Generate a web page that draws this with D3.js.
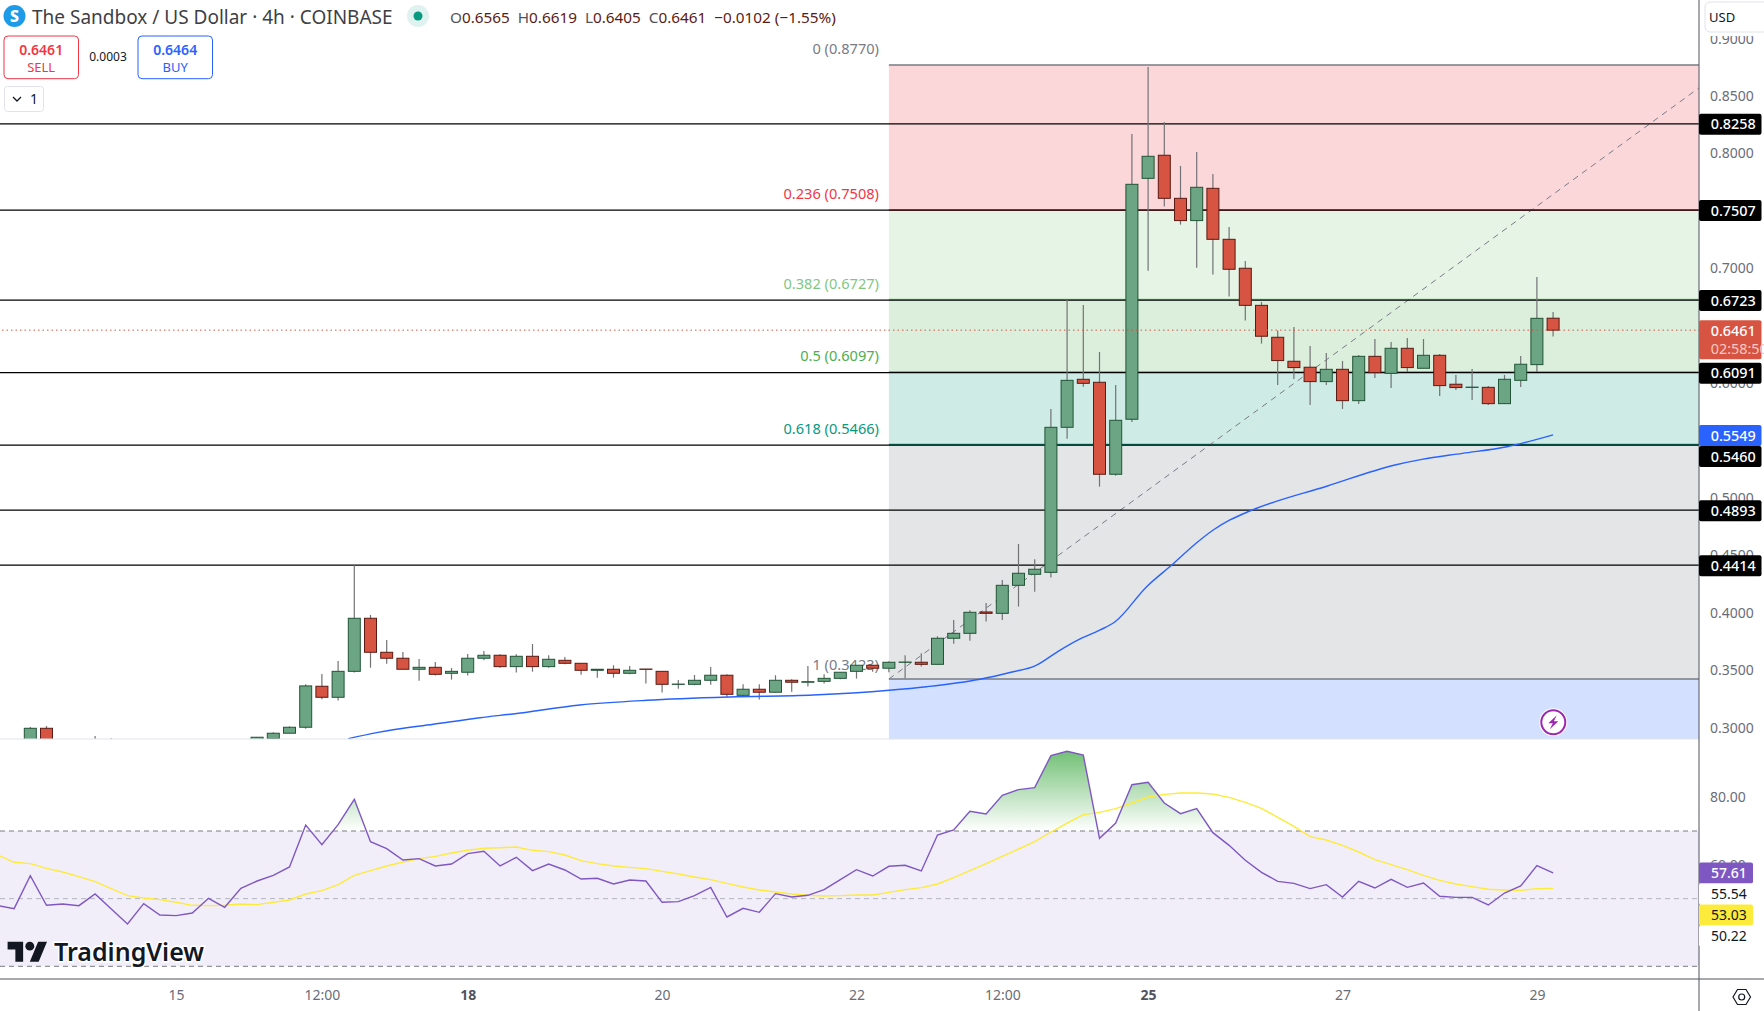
<!DOCTYPE html>
<html>
<head>
<meta charset="utf-8">
<script src="https://cdn.jsdelivr.net/npm/d3@7"></script>
<style>
  body { margin: 0; background: #fff; overflow: hidden; }
  text { font-family: "Noto Sans", sans-serif; }
</style>
</head>
<body>
<svg id="chart" width="1764" height="1011"></svg>
<script>
// candles by bar index, null = nothing of that bar shows in the price pane
const opens = [0.285,0.2994,null,null,0.283,0.283,null,null,null,null,null,null,null,null,0.283,0.2904,0.2951,0.3003,0.3360,0.3264,0.3490,0.3952,0.3656,0.3604,0.3508,0.3525,0.3473,0.3482,0.3604,0.3630,0.3531,0.3621,0.3531,0.3586,0.3560,0.3499,0.3508,0.3473,0.3510,0.3490,0.3377,0.3377,0.3412,0.3456,0.3281,0.3334,0.3308,0.3412,0.3395,0.3403,0.3429,0.3490,0.3543,0.3517,0.3569,0.3569,0.3551,0.3778,0.3821,0.4007,0.3995,0.4239,0.4335,0.4352,0.5615,0.6033,0.6007,0.5206,0.5685,0.7783,0.7984,0.7609,0.7415,0.7696,0.7252,0.7000,0.6677,0.6399,0.6190,0.6138,0.6013,0.6120,0.5847,0.6233,0.6085,0.6303,0.6129,0.6242,0.5990,0.5963,0.5963,0.5821,0.6024,0.6161,0.6565];
const highs = [0.3006,0.3014,null,null,0.2927,0.2907,null,null,null,null,null,null,null,null,0.2916,0.2959,0.3011,0.3377,0.3467,0.3580,0.4413,0.3981,0.3763,0.3659,0.3598,0.3572,0.3519,0.3641,0.3667,0.3638,0.3638,0.3728,0.3630,0.3615,0.3560,0.3508,0.3543,0.3537,0.3510,0.3490,0.3415,0.3458,0.3528,0.3464,0.3377,0.3377,0.3456,0.3421,0.3537,0.3464,0.3482,0.3543,0.3543,0.3577,0.3630,0.3647,0.3795,0.3937,0.4022,0.4085,0.4286,0.4599,0.4466,0.5775,0.6730,0.6680,0.6271,0.5984,0.8169,0.8753,0.8274,0.7891,0.8013,0.7821,0.7360,0.7064,0.6707,0.6457,0.6489,0.6323,0.6262,0.6193,0.6245,0.6384,0.6358,0.6393,0.6384,0.6254,0.6071,0.6123,0.5975,0.6071,0.6236,0.6924,0.6619];
const lows = [0.283,0.283,null,null,0.28,0.28,null,null,null,null,null,null,null,null,0.281,0.2895,0.2951,0.2991,0.3247,0.3235,0.3479,0.3522,0.3557,0.3508,0.3409,0.3453,0.3418,0.3453,0.3586,0.3522,0.3479,0.3487,0.3522,0.3551,0.3461,0.3435,0.3435,0.3464,0.3383,0.3305,0.3339,0.3369,0.3374,0.3267,0.3267,0.3244,0.3305,0.3313,0.3357,0.3383,0.3421,0.3427,0.3487,0.3482,0.3429,0.3531,0.3546,0.3731,0.3757,0.3923,0.3937,0.4054,0.4184,0.4306,0.5516,0.5969,0.5098,0.5194,0.5662,0.6979,0.7537,0.7380,0.7005,0.6945,0.6753,0.6544,0.6344,0.5984,0.6036,0.5810,0.5984,0.5775,0.5818,0.6045,0.5958,0.6097,0.6129,0.5888,0.5940,0.5853,0.5810,0.5821,0.5966,0.6097,0.6405];
const closes = [0.2994,0.285,null,null,0.284,0.284,null,null,null,null,null,null,null,null,0.2916,0.2951,0.3003,0.3363,0.3264,0.3490,0.3952,0.3656,0.3604,0.3508,0.3525,0.3464,0.3490,0.3604,0.3630,0.3531,0.3621,0.3531,0.3595,0.3560,0.3499,0.3508,0.3473,0.3499,0.3508,0.3377,0.3379,0.3412,0.3456,0.3290,0.3334,0.3308,0.3412,0.3395,0.3400,0.3429,0.3482,0.3543,0.3517,0.3569,0.3571,0.3551,0.3778,0.3821,0.4004,0.3995,0.4239,0.4344,0.4379,0.5615,0.6024,0.5998,0.5206,0.5676,0.7731,0.7975,0.7609,0.7415,0.7705,0.7252,0.6991,0.6677,0.6408,0.6196,0.6135,0.6013,0.6120,0.5847,0.6233,0.6091,0.6303,0.6135,0.6242,0.5978,0.5961,0.5965,0.5821,0.6033,0.6164,0.6564,0.6461];

// moving average on the price pane, read at these bar positions
const maBars = [19.63,21.38,22.04,24.88,27.76,29.81,33.93,38.05,43.19,48.33,53.02,55.33,58.62,60.6,62.02,63.38,64.68,66.04,66.96,68.91,70.46,72,73.02,74.05,75.28,80.07,84.24,85.9,88.4,91.15,94];
const maValues = [0.2904,0.2956,0.2973,0.3029,0.3086,0.3119,0.3197,0.3238,0.3267,0.3284,0.3325,0.3356,0.3421,0.3484,0.3537,0.3658,0.3763,0.3850,0.3922,0.4227,0.4416,0.4610,0.4721,0.4808,0.4886,0.5104,0.5287,0.5336,0.5388,0.5446,0.5549];

// RSI and its average, first value belongs to bar -2
const rsiValues = [47.93,47.04,56.8,48.03,48.42,47.93,51.38,46.95,42.51,48.52,45.17,44.98,45.76,50.1,47.44,53.05,55.22,56.9,59.36,71.77,65.96,71.87,79.36,66.85,64.78,61.43,61.82,59.66,60.25,63.3,63.99,59.66,62.22,58.28,60.25,58.47,55.81,56.01,54.33,55.52,55.22,48.92,49.11,50.89,53.35,44.58,47.14,45.96,51.48,50.49,50.99,52.66,55.62,58.57,56.7,59.56,59.85,58.18,68.82,70.3,75.81,75.02,80.54,82.22,82.81,92.27,93.55,92.46,67.83,72.36,83.69,84.38,78.28,75.12,76.6,69.51,65.76,61.33,57.78,55.12,54.53,52.96,54.14,50.49,55.12,53.15,55.71,53.35,54.63,50.69,50.39,50.39,48.13,51.67,53.74,59.75,57.61];
const rsiMaValues = [62.91,60.74,60.34,58.97,57.88,56.5,55.02,52.96,50.89,50.2,49.7,48.92,48.03,47.93,48.03,48.42,48.23,48.92,49.61,51.38,52.36,54.14,56.9,58.28,59.66,60.84,61.82,62.51,63.5,64.29,64.88,65.07,65.27,64.29,63.89,62.91,61.23,60.34,59.66,59.26,58.87,58.08,57.29,56.4,55.62,54.53,53.45,52.56,51.97,51.38,50.99,50.79,50.89,51.08,51.08,51.87,52.66,53.25,54.33,56.21,58.28,60.34,62.51,64.68,66.85,69.7,72.36,74.83,75.52,76.6,78.28,80.05,80.84,81.23,81.23,80.94,79.95,78.47,76.7,74.04,71.38,68.33,67.34,65.76,63.79,61.53,60.05,58.57,56.9,55.42,54.33,53.55,52.76,52.56,52.46,52.96,53.03];

// fib retracement
const fibRatios = ["0","0.236","0.382","0.5","0.618","1"];
const fibPrices = [0.8770,0.7508,0.6727,0.6097,0.5466,0.3423];
const fibColors = ["#787b86","#f23645","#81c784","#4caf50","#089981","#787b86"];
const fibZoneColors = ["#f23645","#81c784","#4caf50","#089981","#787b86","#2962ff"];
const fibBottom = 0.2161;
const fibStartBar = 53;
const trendBars = [53, 103];
const trendPrices = [0.3423, 0.857];

const levelPrices = [0.8258,0.7507,0.6723,0.6091,0.5460,0.4893,0.4414];
const lastPrice = 0.6461;

const priceTicks = [0.90,0.85,0.80,0.70,0.60,0.50,0.45,0.40,0.35,0.30];
const rsiTicks = [80,60];
const rsiLevels = [70,50,30];
const timeBars = [9,18,27,39,51,60,69,81,93];
const timeLabels = ["15","12:00","18","20","22","12:00","25","27","29"];
const boldLabels = ["18","25"];

const paneRight = 1699, paneBottom = 739, rsiBottom = 979;

const x = d3.scaleLinear().domain([0, 94]).range([30.3, 1553.1]);
const y = d3.scaleLinear().domain([0.30, 0.85]).range([727.6, 96]);
const yRsi = d3.scaleLinear().domain([30, 70]).range([966.3, 831]);

const svg = d3.select("#chart");
const defs = svg.append("defs");
defs.append("clipPath").attr("id", "pricePane").append("rect")
    .attr("width", paneRight).attr("height", paneBottom);
defs.append("clipPath").attr("id", "rsiPane").append("rect")
    .attr("y", paneBottom).attr("width", paneRight).attr("height", rsiBottom - paneBottom);
defs.append("clipPath").attr("id", "aboveBand").append("rect")
    .attr("y", paneBottom).attr("width", paneRight).attr("height", yRsi(70) - paneBottom);
const grad = defs.append("linearGradient").attr("id", "overbought")
    .attr("gradientUnits", "userSpaceOnUse")
    .attr("x1", 0).attr("x2", 0).attr("y1", yRsi(94)).attr("y2", yRsi(70));
grad.append("stop").attr("offset", 0).attr("stop-color", "#4caf50").attr("stop-opacity", 0.8);
grad.append("stop").attr("offset", 1).attr("stop-color", "#4caf50").attr("stop-opacity", 0);

// ---- price pane
const pane = svg.append("g").attr("clip-path", "url(#pricePane)");

// fib zones, each one reaches down to the next level
const zoneEdges = fibPrices.concat([fibBottom]);
pane.selectAll("rect.zone").data(fibPrices).enter().append("rect")
    .attr("class", "zone")
    .attr("x", x(fibStartBar))
    .attr("width", paneRight - x(fibStartBar))
    .attr("y", (d) => y(d))
    .attr("height", (d, i) => y(zoneEdges[i + 1]) - y(d))
    .attr("fill", (d, i) => fibZoneColors[i])
    .attr("fill-opacity", 0.2);

pane.selectAll("line.fib").data(fibPrices).enter().append("line")
    .attr("class", "fib")
    .attr("x1", x(fibStartBar)).attr("x2", paneRight)
    .attr("y1", (d) => y(d)).attr("y2", (d) => y(d))
    .attr("stroke", (d, i) => fibColors[i])
    .attr("stroke-width", 1.5);

pane.append("line")
    .attr("x1", x(trendBars[0])).attr("x2", x(trendBars[1]))
    .attr("y1", y(trendPrices[0])).attr("y2", y(trendPrices[1]))
    .attr("stroke", "#787b86")
    .attr("stroke-width", 1)
    .attr("stroke-dasharray", "6 5");

// fib labels sit a bit above their level
const fibLabelY = [48.5, 194, 284, 356, 429, 664.5];
pane.selectAll("text.fibLabel").data(fibPrices).enter().append("text")
    .attr("class", "fibLabel")
    .attr("x", 879)
    .attr("y", (d, i) => fibLabelY[i])
    .attr("dy", "0.35em")
    .attr("text-anchor", "end")
    .attr("font-size", 14.6)
    .attr("fill", (d, i) => fibColors[i])
    .text((d, i) => fibRatios[i] + " (" + d.toFixed(4) + ")");

pane.selectAll("line.level").data(levelPrices).enter().append("line")
    .attr("class", "level")
    .attr("x1", 0).attr("x2", paneRight)
    .attr("y1", (d) => y(d)).attr("y2", (d) => y(d))
    .attr("stroke", "#000")
    .attr("stroke-width", 1.3);

// candles
const bars = d3.range(opens.length).filter((i) => highs[i] != null);
pane.selectAll("line.wick").data(bars).enter().append("line")
    .attr("class", "wick")
    .attr("x1", (i) => x(i)).attr("x2", (i) => x(i))
    .attr("y1", (i) => y(highs[i])).attr("y2", (i) => y(lows[i]))
    .attr("stroke", "#737375")
    .attr("stroke-width", 1.2);
pane.selectAll("rect.body").data(bars).enter().append("rect")
    .attr("class", "body")
    .attr("x", (i) => x(i) - 6)
    .attr("width", 12)
    .attr("y", (i) => y(Math.max(opens[i], closes[i])))
    .attr("height", (i) => Math.max(0.3, Math.abs(y(opens[i]) - y(closes[i]))))
    .attr("fill", (i) => (closes[i] >= opens[i] ? "#6ba583" : "#d75442"))
    .attr("stroke", (i) => (closes[i] >= opens[i] ? "#225437" : "#5b1a13"))
    .attr("stroke-width", 1);

pane.append("path")
    .attr("d", d3.line().curve(d3.curveMonotoneX).x((d, i) => x(maBars[i])).y((d) => y(d))(maValues))
    .attr("fill", "none")
    .attr("stroke", "#2962ff")
    .attr("stroke-width", 1.4);

pane.append("line")
    .attr("x1", 2).attr("x2", paneRight)
    .attr("y1", y(lastPrice)).attr("y2", y(lastPrice))
    .attr("stroke", "#d75442")
    .attr("stroke-width", 1)
    .attr("stroke-dasharray", "1.5 3");

// bolt marker
const bolt = svg.append("g").attr("transform", "translate(1553.3,722.3)");
bolt.append("circle").attr("r", 14).attr("fill", "#fff");
bolt.append("circle").attr("r", 12).attr("fill", "#fff").attr("stroke", "#9c27b0").attr("stroke-width", 2);
bolt.append("path").attr("d", "M3.5 -7 L-5 1 L-0.5 1 L-3.5 7 L5 -1 L0.5 -1 Z").attr("fill", "#9c27b0");

// ---- rsi pane
const rsiPane = svg.append("g").attr("clip-path", "url(#rsiPane)");
rsiPane.append("rect")
    .attr("x", 0).attr("width", paneRight)
    .attr("y", yRsi(70)).attr("height", yRsi(30) - yRsi(70))
    .attr("fill", "#7e57c2").attr("fill-opacity", 0.1);

rsiPane.selectAll("line.rsiLevel").data(rsiLevels).enter().append("line")
    .attr("class", "rsiLevel")
    .attr("x1", 0).attr("x2", paneRight)
    .attr("y1", (d) => yRsi(d)).attr("y2", (d) => yRsi(d))
    .attr("stroke", (d) => (d == 50 ? "#b2b5be" : "#787b86"))
    .attr("stroke-width", 1)
    .attr("stroke-dasharray", "5 4");

rsiPane.append("path")
    .attr("clip-path", "url(#aboveBand)")
    .attr("d", d3.area().x((d, i) => x(i - 2)).y0(yRsi(70)).y1((d) => yRsi(d))(rsiValues))
    .attr("fill", "url(#overbought)");

rsiPane.append("path")
    .attr("d", d3.line().x((d, i) => x(i - 2)).y((d) => yRsi(d))(rsiMaValues))
    .attr("fill", "none")
    .attr("stroke", "#fdeb3b")
    .attr("stroke-width", 1.4);
rsiPane.append("path")
    .attr("d", d3.line().x((d, i) => x(i - 2)).y((d) => yRsi(d))(rsiValues))
    .attr("fill", "none")
    .attr("stroke", "#7e57c2")
    .attr("stroke-width", 1.4);

// TradingView logo
const logo = svg.append("g").attr("transform", "translate(7.6,937.3) scale(1.11)");
logo.append("path").attr("d", "M14 22H7V11H0V4h14v18zM28 22h-8l7.5-18h8L28 22z").attr("fill", "#131722");
logo.append("circle").attr("cx", 20).attr("cy", 8).attr("r", 4).attr("fill", "#131722");
svg.append("text")
    .attr("x", 54).attr("y", 961)
    .attr("font-size", 25).attr("font-weight", 600)
    .attr("fill", "#131722")
    .attr("stroke", "#fff").attr("stroke-width", 3).attr("paint-order", "stroke")
    .text("TradingView");

// ---- frame
svg.append("line").attr("x1", 0).attr("x2", paneRight).attr("y1", paneBottom).attr("y2", paneBottom)
    .attr("stroke", "#e0e3eb").attr("stroke-width", 1.2);
svg.append("line").attr("x1", 0).attr("x2", 1764).attr("y1", rsiBottom).attr("y2", rsiBottom)
    .attr("stroke", "#50535e").attr("stroke-width", 1);
svg.append("line").attr("x1", paneRight).attr("x2", paneRight).attr("y1", 0).attr("y2", 1011)
    .attr("stroke", "#50535e").attr("stroke-width", 1);

// ---- axes
const priceAxis = svg.append("g")
    .attr("transform", "translate(" + paneRight + ",0)")
    .call(d3.axisRight(y).tickValues(priceTicks).tickSize(0).tickPadding(11).tickFormat(d3.format(".4f")));
const rsiAxis = svg.append("g")
    .attr("transform", "translate(" + paneRight + ",0)")
    .call(d3.axisRight(yRsi).tickValues(rsiTicks).tickSize(0).tickPadding(11).tickFormat(d3.format(".2f")));
const timeAxis = svg.append("g")
    .attr("transform", "translate(0," + rsiBottom + ")")
    .call(d3.axisBottom(x).tickValues(timeBars).tickSize(0).tickPadding(11)
        .tickFormat((d, i) => timeLabels[i]));
[priceAxis, rsiAxis, timeAxis].forEach((a) => {
    a.select(".domain").remove();
    a.selectAll("text")
        .attr("font-family", '"Noto Sans", sans-serif')
        .attr("font-size", 14)
        .attr("fill", "#6a6d78");
});
timeAxis.selectAll("text")
    .filter((d, i) => boldLabels.includes(timeLabels[i]))
    .attr("font-weight", 700)
    .attr("fill", "#50535e");

// ---- tags on the price scale, a tag that would overlap the one above moves down
const tagValues = [0.8258,0.7507,0.6723,0.6461,0.6091,0.5549,0.5460,0.4893,0.4414];
const tagColors = ["#000","#000","#000","#d75442","#000","#2962ff","#000","#000","#000"];
const tagHeights = [21,21,21,39,21,21,21,21,21];
let tagBottom = 0;
tagValues.forEach((v, i) => {
    const top = Math.max(y(v) - 10, tagBottom);
    tagBottom = top + tagHeights[i];
    svg.append("rect")
        .attr("x", paneRight).attr("y", top)
        .attr("width", 62.5).attr("height", tagHeights[i])
        .attr("rx", 2)
        .attr("fill", tagColors[i]);
    svg.append("text")
        .attr("x", 1710.7).attr("y", top + 10.5).attr("dy", "0.36em")
        .attr("font-size", 14.4).attr("font-weight", 500)
        .attr("fill", "#fff")
        .text(v.toFixed(4));
    if (v == lastPrice) {
        svg.append("text")
            .attr("x", 1710.7).attr("y", top + 29).attr("dy", "0.36em")
            .attr("font-size", 14.4)
            .attr("fill", "#f7c9c3")
            .text("02:58:50");
    }
});

const rsiTagValues = [57.61,55.54,53.03,50.22];
const rsiTagColors = ["#7e57c2","#fff","#fdeb3b","#fff"];
const rsiTagText = ["#fff","#131722","#131722","#131722"];
let rsiTagBottom = 0;
rsiTagValues.forEach((v, i) => {
    const top = Math.max(yRsi(v) - 10.5, rsiTagBottom);
    rsiTagBottom = top + 21;
    svg.append("rect")
        .attr("x", paneRight).attr("y", top)
        .attr("width", 54).attr("height", 21)
        .attr("rx", 2)
        .attr("fill", rsiTagColors[i]);
    svg.append("text")
        .attr("x", 1711).attr("y", top + 10.5).attr("dy", "0.36em")
        .attr("font-size", 14).attr("font-weight", i == 0 ? 500 : 400)
        .attr("fill", rsiTagText[i])
        .text(v.toFixed(2));
});

// currency box, the 0.9000 tick slides under it
svg.append("rect")
    .attr("x", 1700).attr("y", 0).attr("width", 64).attr("height", 36)
    .attr("fill", "#fff");
svg.append("rect")
    .attr("x", 1705).attr("y", 2).attr("width", 70).attr("height", 30).attr("rx", 5)
    .attr("fill", "#fff").attr("stroke", "#e0e3eb");
svg.append("text")
    .attr("x", 1709).attr("y", 17).attr("dy", "0.35em")
    .attr("font-size", 13).attr("fill", "#131722")
    .text("USD");

// settings hexagon
svg.append("path")
    .attr("d", "M1733 997 L1737.5 989.5 L1746 989.5 L1750.5 997 L1746 1004.5 L1737.5 1004.5 Z")
    .attr("fill", "none").attr("stroke", "#131722").attr("stroke-width", 1.2);
svg.append("circle")
    .attr("cx", 1741.7).attr("cy", 997).attr("r", 3)
    .attr("fill", "none").attr("stroke", "#131722").attr("stroke-width", 1.2);

// ---- header
svg.append("circle").attr("cx", 14.5).attr("cy", 16).attr("r", 11).attr("fill", "#1e9be8");
svg.append("text").attr("x", 14.5).attr("y", 16).attr("dy", "0.36em")
    .attr("text-anchor", "middle").attr("font-size", 16).attr("font-weight", 800)
    .attr("fill", "#fff").text("S");
svg.append("text").attr("x", 32).attr("y", 17).attr("dy", "0.36em")
    .attr("font-size", 19).attr("fill", "#3d3f46")
    .text("The Sandbox / US Dollar · 4h · COINBASE");

svg.append("circle").attr("cx", 418).attr("cy", 16).attr("r", 11).attr("fill", "#e0f2ef");
svg.append("circle").attr("cx", 418).attr("cy", 16).attr("r", 4.5).attr("fill", "#089981");

const ohlcLabels = ["O","H","L","C"];
const ohlcValues = [0.6565,0.6619,0.6405,0.6461];
const ohlcChange = "−0.0102 (−1.55%)";
const ohlc = svg.append("text").attr("x", 450).attr("y", 17).attr("dy", "0.36em").attr("font-size", 15.3);
ohlcLabels.forEach((l, i) => {
    ohlc.append("tspan").attr("fill", "#50535e").text(l);
    ohlc.append("tspan").attr("fill", "#5b1a13").text(ohlcValues[i].toFixed(4) + "  ");
});
ohlc.append("tspan").attr("fill", "#5b1a13").text(ohlcChange);
ohlc.attr("xml:space", "preserve").style("white-space", "pre");

// sell and buy boxes
const tradeLabels = ["SELL","BUY"];
const tradePrices = [0.6461,0.6464];
const tradeColors = ["#f23645","#2962ff"];
const tradeLeft = [4,138];
tradeLabels.forEach((t, i) => {
    svg.append("rect")
        .attr("x", tradeLeft[i]).attr("y", 36).attr("width", 74.5).attr("height", 42.7).attr("rx", 4)
        .attr("fill", "#fff").attr("stroke", tradeColors[i]);
    svg.append("text").attr("x", tradeLeft[i] + 37.2).attr("y", 50).attr("dy", "0.36em")
        .attr("text-anchor", "middle").attr("font-size", 14).attr("font-weight", 600)
        .attr("fill", tradeColors[i]).text(tradePrices[i].toFixed(4));
    svg.append("text").attr("x", tradeLeft[i] + 37.2).attr("y", 67).attr("dy", "0.36em")
        .attr("text-anchor", "middle").attr("font-size", 13)
        .attr("fill", tradeColors[i]).text(t);
});
svg.append("text").attr("x", 108).attr("y", 56.7).attr("dy", "0.36em")
    .attr("text-anchor", "middle").attr("font-size", 12).attr("fill", "#131722").text("0.0003");

// collapse button
svg.append("rect").attr("x", 4.5).attr("y", 86.5).attr("width", 39).attr("height", 25).attr("rx", 3)
    .attr("fill", "#fff").attr("stroke", "#e0e3eb");
svg.append("path").attr("d", "M13 97 L17 101 L21 97").attr("fill", "none").attr("stroke", "#131722").attr("stroke-width", 1.3);
svg.append("text").attr("x", 30).attr("y", 99).attr("dy", "0.36em")
    .attr("font-size", 14).attr("fill", "#131722").text("1");
</script>
</body>
</html>
